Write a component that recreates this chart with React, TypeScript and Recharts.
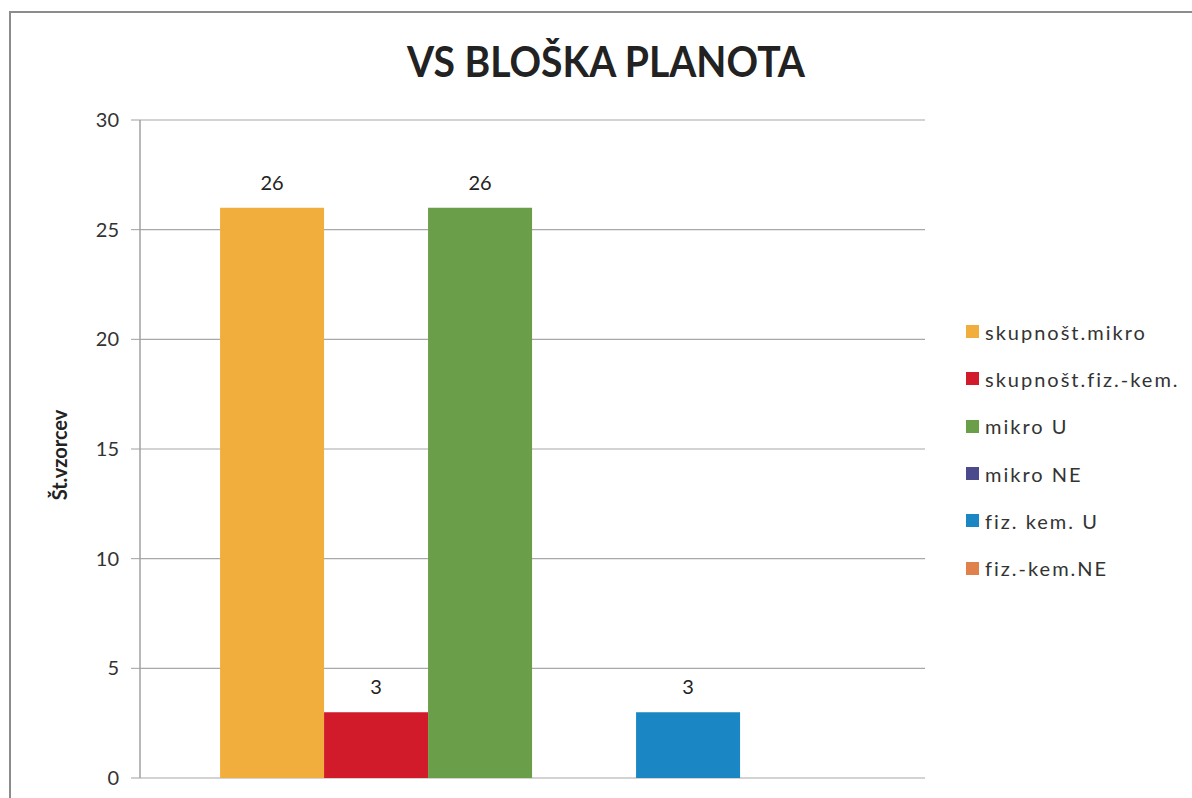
import React from "react";
import { BarChart, Bar, XAxis, YAxis, CartesianGrid, Legend, LabelList } from "recharts";

const categories = ["VS BLOŠKA PLANOTA"];
const seriesNames = [
  "skupnošt.mikro",
  "skupnošt.fiz.-kem.",
  "mikro U",
  "mikro NE",
  "fiz. kem. U",
  "fiz.-kem.NE",
];
const seriesValues = [26, 3, 26, 0, 3, 0];
const seriesColors = ["#F2AE3C", "#D11A2A", "#6A9E48", "#4A4A8C", "#1A86C4", "#E0804A"];
const yTicks = [0, 5, 10, 15, 20, 25, 30];
const title = "VS BLOŠKA PLANOTA";
const yLabel = "Št.vzorcev";

const data = categories.map((c) => {
  const row: Record<string, string | number> = { category: c };
  seriesNames.forEach((s, i) => {
    row["s" + i] = seriesValues[i];
  });
  return row;
});

const FONT = "Lato, 'Open Sans', sans-serif";

const LegendContent = () => {
  return (
    <div>
      {seriesNames.map((name, i) => (
        <div
          key={name}
          style={{ height: 47.3, display: "flex", alignItems: "center", fontFamily: FONT, fontSize: 20, letterSpacing: 2, color: "#333", whiteSpace: "nowrap" }}
        >
          <span style={{ display: "inline-block", width: 13, height: 13, background: seriesColors[i], marginRight: 6 }} />
          <span>{name}</span>
        </div>
      ))}
    </div>
  );
};

const YLabel = (props: any) => {
  const vb = props.viewBox || { y: 119, height: 658 };
  const cy = vb.y + vb.height / 2 + 6;
  return (
    <text
      x={59}
      y={cy}
      transform={`rotate(-90, 59, ${cy})`}
      textAnchor="middle"
      dominantBaseline="central"
      fontFamily={FONT}
      fontWeight={700}
      fontSize={20}
      fill="#222"
    >
      {yLabel}
    </text>
  );
};

export default function App() {
  return (
    <div style={{ position: "absolute", left: 0, top: 0, width: 1192, height: 798, overflow: "hidden", background: "#fff" }}>
      <div
        style={{
          position: "absolute",
          left: 9,
          top: 11,
          width: 1300,
          height: 900,
          borderLeft: "2px solid #8c8c8c",
          borderTop: "2px solid #8c8c8c",
        }}
      />
      <svg width={1192} height={100} style={{ position: "absolute", left: 0, top: 0 }}>
        <text
          x={606}
          y={77}
          textAnchor="middle"
          fontFamily={FONT}
          fontWeight={700}
          fontSize={42}
          fill="#222"
          textLength={398}
          lengthAdjust="spacingAndGlyphs"
        >
          {title}
        </text>
      </svg>
      <div style={{ position: "absolute", left: 0, top: 0 }}>
        <BarChart
          width={1192}
          height={798}
          data={data}
          margin={{ top: 120, right: 267, bottom: 20, left: 0 }}
          barCategoryGap="10.2%"
          barGap={0}
        >
          <CartesianGrid vertical={false} stroke="#a8a8a8" strokeWidth={1.2} />
          <XAxis dataKey="category" height={0} tick={false} tickLine={false} axisLine={{ stroke: "#a0a0a0", strokeWidth: 1.5 }} />
          <YAxis
            width={140}
            domain={[0, 30]}
            ticks={yTicks}
            interval={0}
            tickSize={9}
            tickMargin={12}
            tick={{ fill: "#333", fontSize: 20, fontFamily: FONT }}
            tickLine={{ stroke: "#a0a0a0" }}
            axisLine={{ stroke: "#a0a0a0", strokeWidth: 1.5 }}
            label={{ content: YLabel }}
          />
          <Legend
            layout="vertical"
            align="center"
            verticalAlign="middle"
            content={LegendContent}
            wrapperStyle={{ position: "absolute", left: 966, top: 308, width: 226 }}
          />
          {seriesNames.map((s, i) => (
            <Bar key={s} dataKey={"s" + i} name={s} fill={seriesColors[i]} isAnimationActive={false}>
              <LabelList
                dataKey={"s" + i}
                position="top"
                offset={18}
                fill="#222"
                fontSize={20}
                fontFamily={FONT}
                formatter={(v: any) => (v ? v : "")}
              />
            </Bar>
          ))}
        </BarChart>
      </div>
    </div>
  );
}
